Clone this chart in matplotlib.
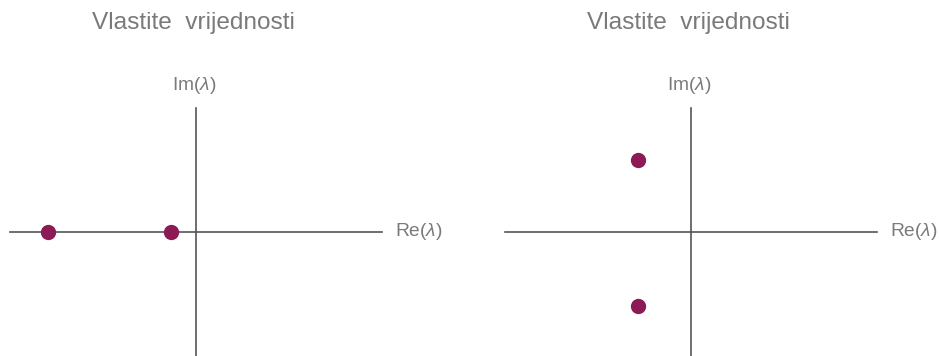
import matplotlib
matplotlib.use("Agg")
import matplotlib.pyplot as plt

plt.rcParams["font.family"] = ["Liberation Sans", "DejaVu Sans"]
plt.rcParams["mathtext.fontset"] = "custom"
plt.rcParams["mathtext.rm"] = "Liberation Sans"
plt.rcParams["mathtext.it"] = "Liberation Sans:italic"

# Eigenvalues for the two systems
titles = ["Vlastite  vrijednosti", "Vlastite  vrijednosti"]
real_parts = [[-3.0, -0.5], [-1.06, -1.06]]
imag_parts = [[0.0, 0.0], [1.47, -1.53]]

# Axis extents (in eigenvalue units) for each panel
x_limits = [(-3.78, 3.78), (-3.78, 3.8)]
y_limits = [(-2.55, 2.53), (-2.55, 2.53)]
panel_left = [10 / 939, 505 / 939]

W, H = 939, 356
fig = plt.figure(figsize=(W / 100, H / 100), dpi=100)

dot_color = "#8b1a55"
line_color = "#555555"
text_color = "#7a7a7a"

for i in range(2):
    ax = fig.add_axes([panel_left[i], 0.0, 372 / W, 248 / H])
    ax.set_xlim(*x_limits[i])
    ax.set_ylim(*y_limits[i])
    for side in ("top", "right"):
        ax.spines[side].set_visible(False)
    ax.spines["left"].set_position("zero")
    ax.spines["bottom"].set_position("zero")
    for side in ("left", "bottom"):
        ax.spines[side].set_color(line_color)
        ax.spines[side].set_linewidth(1.2)
    ax.set_xticks([])
    ax.set_yticks([])
    ax.patch.set_visible(False)

    ax.plot(real_parts[i], imag_parts[i], "o", color=dot_color,
            markersize=10, clip_on=False, zorder=3)

    ax.annotate(r"Im($\lambda$)", xy=(0, 1), xycoords=("data", "axes fraction"),
                xytext=(-1, 16.5), textcoords="offset points",
                ha="center", va="center", fontsize=13.8, color=text_color)
    ax.annotate(r"Re($\lambda$)", xy=(1, 0), xycoords=("axes fraction", "data"),
                xytext=(9.5, 0), textcoords="offset points",
                ha="left", va="center", fontsize=13.8, color=text_color)
    ax.annotate(titles[i], xy=(0, 1), xycoords=("data", "axes fraction"),
                xytext=(-1.5, 61), textcoords="offset points",
                ha="center", va="center", fontsize=17.6, color=text_color)

fig.savefig("out.png", dpi=100, facecolor="white")
